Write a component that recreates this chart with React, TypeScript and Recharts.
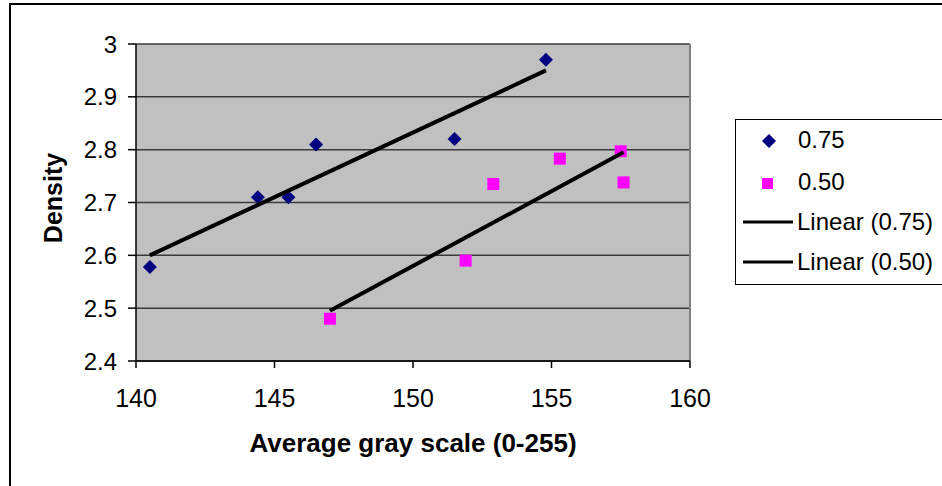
import React from 'react';
import { ScatterChart, Scatter, XAxis, YAxis, CartesianGrid, ReferenceLine } from 'recharts';

const x75 = [140.5, 144.4, 145.5, 146.5, 151.5, 154.8];
const y75 = [2.578, 2.71, 2.71, 2.81, 2.82, 2.97];
const x50 = [147.0, 151.9, 152.9, 155.3, 157.5, 157.6];
const y50 = [2.48, 2.59, 2.735, 2.783, 2.797, 2.738];
const trend75X = [140.5, 154.8];
const trend75Y = [2.6, 2.95];
const trend50X = [147.0, 157.6];
const trend50Y = [2.495, 2.795];
const xTicks = [140, 145, 150, 155, 160];
const yTicks = [2.4, 2.5, 2.6, 2.7, 2.8, 2.9, 3];
const seriesNames = ['0.75', '0.50', 'Linear (0.75)', 'Linear (0.50)'];
const xTitle = 'Average gray scale (0-255)';
const yTitle = 'Density';

const FONT = '"Liberation Sans", Arial, sans-serif';
const NAVY = '#000080';
const MAGENTA = '#FF00FF';

const zip = (xs: number[], ys: number[]) => xs.map((x, i) => ({ x, y: ys[i] }));
const d75 = zip(x75, y75);
const d50 = zip(x50, y50);
const t75 = zip(trend75X, trend75Y);
const t50 = zip(trend50X, trend50Y);

const Diamond = (p: any) => {
  const { cx, cy } = p;
  const r = 7;
  return <polygon points={`${cx},${cy - r} ${cx + r},${cy} ${cx},${cy + r} ${cx - r},${cy}`} fill={NAVY} />;
};
const Square = (p: any) => {
  const { cx, cy } = p;
  const s = 12;
  return <rect x={cx - s / 2} y={cy - s / 2} width={s} height={s} fill={MAGENTA} />;
};
const NoShape = () => <g />;

const XTick = (p: any) => {
  const { x, y, payload } = p;
  return (
    <text x={x} y={y + 39} textAnchor="middle" fontFamily={FONT} fontSize={25} fill="#000">
      {String(payload.value)}
    </text>
  );
};

export default function App() {
  return (
    <div style={{ position: 'absolute', left: 0, top: 0, width: 942, height: 486, overflow: 'hidden', background: '#fff' }}>
      <div style={{ position: 'absolute', left: 9, top: 3, width: 1000, height: 600, border: '2px solid #000', boxSizing: 'border-box' }} />
      <div style={{ position: 'absolute', left: 0, top: 0 }}>
        <ScatterChart width={942} height={486} margin={{ top: 44, right: 252, bottom: 0, left: 0 }}>
          <CartesianGrid vertical={false} stroke="#3a3a3a" strokeWidth={1.5} fill="#C0C0C0" />
          <XAxis
            type="number"
            dataKey="x"
            domain={[140, 160]}
            ticks={xTicks}
            allowDataOverflow
            height={125}
            tickSize={7}
            tickMargin={0}
            axisLine={{ stroke: '#000', strokeWidth: 1.5 }}
            tickLine={{ stroke: '#000', strokeWidth: 1.5 }}
            tick={<XTick />}
            label={{
              content: () => (
                <text x={413} y={452} textAnchor="middle" fontFamily={FONT} fontSize={26} fontWeight="bold" fill="#000">
                  {xTitle}
                </text>
              ),
            }}
          />
          <YAxis
            type="number"
            dataKey="y"
            domain={[2.4, 3]}
            ticks={yTicks}
            allowDataOverflow
            width={136}
            tickSize={8}
            tickMargin={11}
            axisLine={{ stroke: '#000', strokeWidth: 1.5 }}
            tickLine={{ stroke: '#000', strokeWidth: 1.5 }}
            tick={{ fontFamily: FONT, fontSize: 24, fill: '#000' }}
            tickFormatter={(v: number) => String(v)}
            label={{
              content: () => (
                <text
                  x={0}
                  y={0}
                  transform="translate(62,198) rotate(-90)"
                  textAnchor="middle"
                  fontFamily={FONT}
                  fontSize={25}
                  fontWeight="bold"
                  fill="#000"
                >
                  {yTitle}
                </text>
              ),
            }}
          />
          <ReferenceLine x={160} stroke="#808080" strokeWidth={2} />
          <Scatter name={seriesNames[0]} data={d75} shape={<Diamond />} isAnimationActive={false} />
          <Scatter name={seriesNames[1]} data={d50} shape={<Square />} isAnimationActive={false} />
          <Scatter
            name={seriesNames[2]}
            data={t75}
            shape={<NoShape />}
            line={{ stroke: '#000', strokeWidth: 4 }}
            isAnimationActive={false}
          />
          <Scatter
            name={seriesNames[3]}
            data={t50}
            shape={<NoShape />}
            line={{ stroke: '#000', strokeWidth: 4 }}
            isAnimationActive={false}
          />
        </ScatterChart>
      </div>
      <svg width={942} height={486} style={{ position: 'absolute', left: 0, top: 0, pointerEvents: 'none' }}>
        <rect x={735.5} y={119.5} width={260} height={165} fill="#fff" stroke="#000" strokeWidth={1} />
        <polygon points="769,134 776,141 769,148 762,141" fill={NAVY} />
        <rect x={762} y={178} width={11} height={11} fill={MAGENTA} />
        <line x1={743} y1={222} x2={793} y2={222} stroke="#000" strokeWidth={3} />
        <line x1={743} y1={262} x2={793} y2={262} stroke="#000" strokeWidth={3} />
        <text x={798} y={148} fontFamily={FONT} fontSize={24} fill="#000">{seriesNames[0]}</text>
        <text x={798} y={190} fontFamily={FONT} fontSize={24} fill="#000">{seriesNames[1]}</text>
        <text x={797} y={230} fontFamily={FONT} fontSize={24} fill="#000">{seriesNames[2]}</text>
        <text x={797} y={270} fontFamily={FONT} fontSize={24} fill="#000">{seriesNames[3]}</text>
      </svg>
    </div>
  );
}
